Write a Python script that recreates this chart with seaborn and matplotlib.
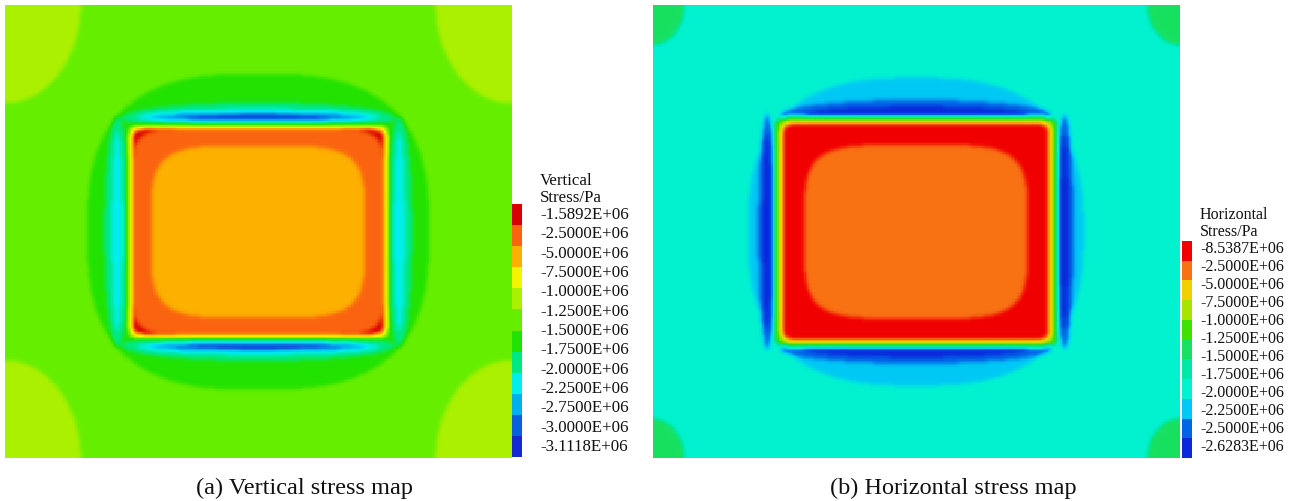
import numpy as np
import matplotlib
matplotlib.use("Agg")
import matplotlib.pyplot as plt
import seaborn as sns
from matplotlib.colors import LinearSegmentedColormap

plt.rcParams["font.family"] = ["Liberation Serif", "DejaVu Serif"]

# Legend labels as printed beside each contour scale
vertical_labels = ["-1.5892E+06", "-2.5000E+06", "-5.0000E+06", "-7.5000E+06",
                   "-1.0000E+06", "-1.2500E+06", "-1.5000E+06", "-1.7500E+06",
                   "-2.0000E+06", "-2.2500E+06", "-2.7500E+06", "-3.0000E+06",
                   "-3.1118E+06"]
horizontal_labels = ["-8.5387E+06", "-2.5000E+06", "-5.0000E+06", "-7.5000E+06",
                     "-1.0000E+06", "-1.2500E+06", "-1.5000E+06", "-1.7500E+06",
                     "-2.0000E+06", "-2.2500E+06", "-2.5000E+06", "-2.6283E+06"]

# Contour band colours, top of the scale first
vertical_colors = ["#d80000", "#fa6410", "#fcb000", "#f5f500", "#aaf000", "#66ee00",
                   "#22e200", "#00e884", "#00eeee", "#00b0ee", "#0a60e0", "#1428d4"]
horizontal_colors = ["#f00000", "#f87214", "#f2d000", "#a8e400", "#40e000", "#18e060",
                     "#00e8a8", "#02f2d0", "#00c8f4", "#0064e6", "#0a28dc"]

# Stress bands around the opening:
# (band index, x offset, y offset, half width, half height, shape exponent), in pixels,
# each band mirrored about both symmetry axes of the section
vertical_zones = [
    (4, 253.5, 226.5, 76, 98, 2.0),
    (6, 0, 0, 171, 158, 2.8),
    (7, 0, 114, 136, 15, 2.0),
    (7, 141, 0, 13, 116, 2.0),
    (8, 0, 115, 122, 7.5, 2.0),
    (8, 141, 0, 5.5, 100, 2.0),
    (9, 0, 115, 110, 4.2, 2.0),
    (10, 0, 115, 92, 2.8, 2.0),
    (11, 0, 115, 60, 1.7, 2.0),
    (3, 0, 0, 130, 107, 30),
    (0, 0, 0, 126, 103, 30),
    (1, 0, 0, 126, 103, 9),
    (2, 0, 0, 107, 86, 4.5),
]
vertical_background = 5

horizontal_zones = [
    (5, 263.5, 226.5, 32, 40, 2.0),
    (8, 0, 0, 168, 154, 2.7),
    (9, 0, 117, 136, 15, 2.0),
    (9, 149, 0, 9, 118, 2.0),
    (10, 0, 117, 112, 8.5, 2.0),
    (10, 149, 0, 4.5, 98, 2.0),
    (4, 0, 0, 142, 115, 30),
    (2, 0, 0, 137, 111, 30),
    (0, 0, 0, 133, 108, 30),
    (1, 0, 0, 112, 87, 4.5),
]
horizontal_background = 7

W_PX, H_PX = 1299, 502
CELL = 1.5


def smooth(field, sigma):
    r = int(3 * sigma)
    k = np.exp(-0.5 * (np.arange(-r, r + 1) / sigma) ** 2)
    k /= k.sum()
    padded = np.pad(field, r, mode="edge")
    tmp = np.apply_along_axis(lambda v: np.convolve(v, k, mode="valid"), 1, padded)
    return np.apply_along_axis(lambda v: np.convolve(v, k, mode="valid"), 0, tmp)


def stress_field(zones, width, height, background):
    xs = np.arange(0, width, CELL) + CELL / 2 - width / 2
    ys = np.arange(0, height, CELL) + CELL / 2 - height / 2
    X, Y = np.meshgrid(xs, ys)
    field = np.full(X.shape, float(background))
    for level, dx, dy, a, b, n in zones:
        inside = np.zeros(X.shape, bool)
        for sx in (-1, 1):
            for sy in (-1, 1):
                inside |= (np.abs(X - sx * dx) / a) ** n + (np.abs(Y - sy * dy) / b) ** n <= 1
        field[inside] = level
    return smooth(field, 1.4)


def px_axes(fig, x, y, w, h):
    return fig.add_axes([x / W_PX, 1 - (y + h) / H_PX, w / W_PX, h / H_PX])


def draw_panel(fig, zones, background, colors, labels, title, caption,
               img_box, bar_box, text_x, title_y, label_y0, label_y1, caption_x, fs):
    cmap = LinearSegmentedColormap.from_list("bands", colors, N=512)
    vmax = len(colors) - 1
    ax = px_axes(fig, *img_box)
    field = stress_field(zones, img_box[2], img_box[3], background)
    sns.heatmap(field, ax=ax, cmap=cmap, vmin=0, vmax=vmax, cbar=False,
                xticklabels=False, yticklabels=False, rasterized=True)
    ax.set_xticks([]); ax.set_yticks([])

    cax = px_axes(fig, *bar_box)
    sns.heatmap(np.arange(len(colors)).reshape(-1, 1), ax=cax, cmap=cmap, vmin=0,
                vmax=vmax, cbar=False, xticklabels=False, yticklabels=False)
    cax.set_xticks([]); cax.set_yticks([])

    for i, line in enumerate(title):
        fig.text(text_x / W_PX, 1 - (title_y + i * (label_y0 - title_y) / 2) / H_PX, line,
                 ha="left", va="center", fontsize=fs, color="#111111")
    for y, lab in zip(np.linspace(label_y0, label_y1, len(labels)), labels):
        fig.text(text_x / W_PX, 1 - y / H_PX, lab, ha="left", va="center",
                 fontsize=fs, color="#111111")
    fig.text(caption_x / W_PX, 1 - 494 / H_PX, caption, ha="center", va="baseline",
             fontsize=17.5, color="#111111")


fig = plt.figure(figsize=(W_PX / 100, H_PX / 100), dpi=100)
fig.patch.set_facecolor("white")

draw_panel(fig, vertical_zones, vertical_background, vertical_colors, vertical_labels,
           ["Vertical", "Stress/Pa"], "(a) Vertical stress map",
           (5, 6, 507, 453), (512, 205, 10, 253), 540, 181, 215, 447, 305, 12.2)
draw_panel(fig, horizontal_zones, horizontal_background, horizontal_colors, horizontal_labels,
           ["Horizontal", "Stress/Pa"], "(b) Horizontal stress map",
           (653, 6, 527, 453), (1182, 242, 10, 217), 1200, 215, 249, 447, 953, 11.5)

fig.savefig("out.png", dpi=100, facecolor="white")
